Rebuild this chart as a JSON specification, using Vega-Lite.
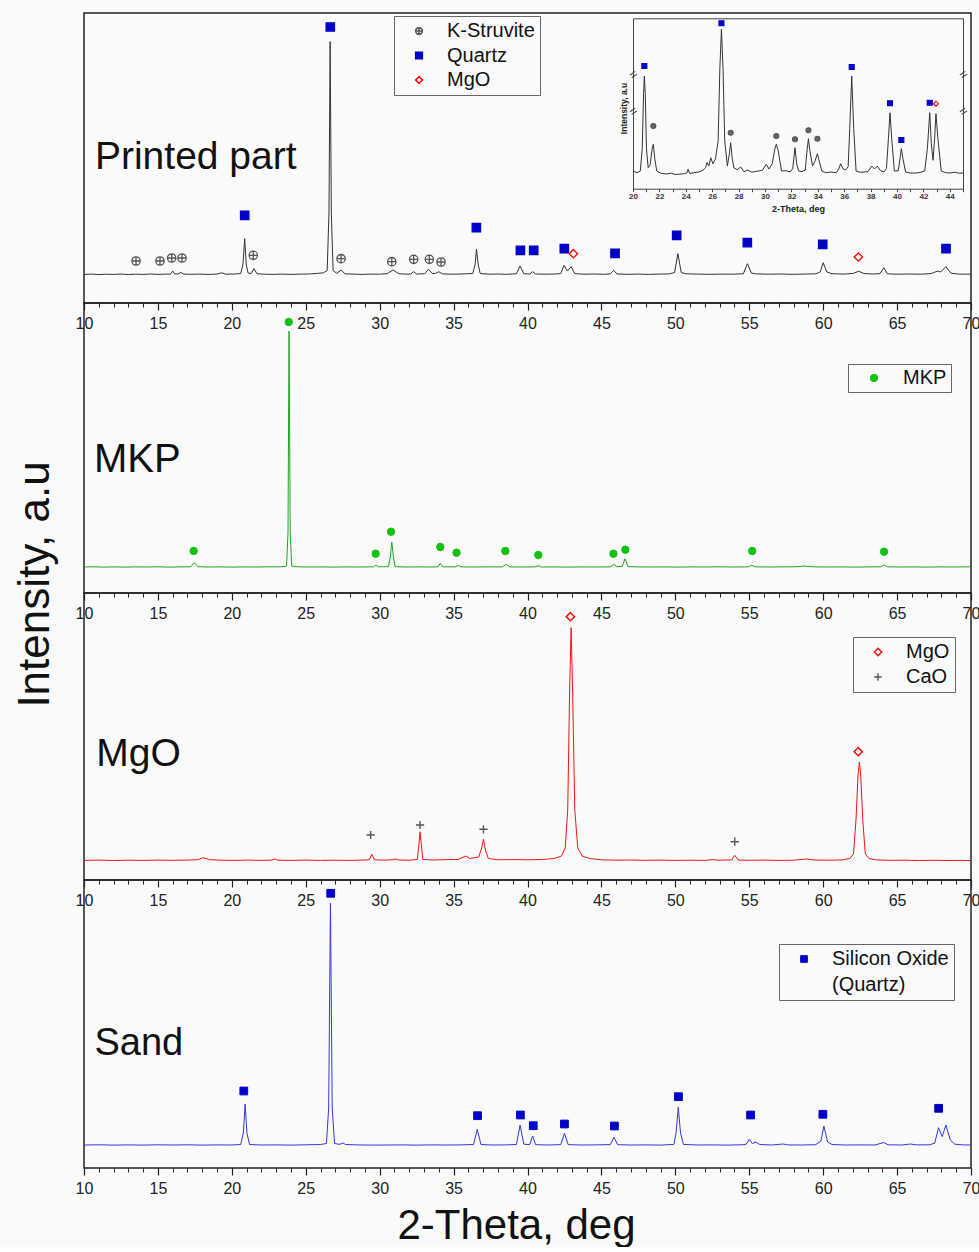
{
  "$schema": "https://vega.github.io/schema/vega-lite/v6.json",
  "background": "#fafafa",
  "padding": {"left": 12, "top": 12, "right": 0, "bottom": 0},
  "bounds": "flush",
  "spacing": 0,
  "datasets": {
    "p1line": [
      {"t":10,"i":28.5},{"t":10.5,"i":28.9},{"t":11,"i":28.4},{"t":11.5,"i":28.8},{"t":12,"i":28.6},{"t":12.5,"i":28.9},{"t":13,"i":28.5},{"t":13.5,"i":28.8},{"t":14,"i":28.6},{"t":14.5,"i":29.0},{"t":15,"i":28.6},{"t":15.5,"i":28.9},{"t":15.85,"i":28.8},{"t":16.0,"i":32},{"t":16.15,"i":28.9},{"t":16.35,"i":29.1},{"t":16.55,"i":30.5},{"t":16.75,"i":28.9},{"t":17.2,"i":28.7},{"t":17.8,"i":28.9},{"t":18.4,"i":28.6},{"t":19.0,"i":28.9},{"t":19.3,"i":30.2},{"t":19.6,"i":28.8},{"t":20.2,"i":29},{"t":20.6,"i":29.5},{"t":20.75,"i":38},{"t":20.87,"i":64.3},{"t":20.98,"i":38},{"t":21.1,"i":30},{"t":21.3,"i":29.4},{"t":21.5,"i":34.3},{"t":21.7,"i":29.3},{"t":22.2,"i":28.8},{"t":22.8,"i":28.6},{"t":23.4,"i":28.9},{"t":24.0,"i":28.6},{"t":24.6,"i":28.9},{"t":25.2,"i":29},{"t":25.8,"i":29.6},{"t":26.2,"i":30.2},{"t":26.45,"i":32.5},{"t":26.57,"i":90},{"t":26.65,"i":261.3},{"t":26.73,"i":90},{"t":26.85,"i":32.5},{"t":27.1,"i":29.6},{"t":27.4,"i":33},{"t":27.65,"i":29.2},{"t":28.2,"i":28.9},{"t":28.8,"i":28.6},{"t":29.4,"i":28.9},{"t":30.0,"i":28.8},{"t":30.5,"i":29.3},{"t":30.9,"i":33},{"t":31.3,"i":29.2},{"t":31.8,"i":28.9},{"t":32.1,"i":29},{"t":32.3,"i":31.3},{"t":32.5,"i":29},{"t":33.05,"i":29.3},{"t":33.3,"i":33.7},{"t":33.55,"i":29.5},{"t":33.8,"i":29.7},{"t":34.0,"i":31.3},{"t":34.25,"i":29.1},{"t":34.9,"i":28.8},{"t":35.5,"i":29},{"t":36.3,"i":29.5},{"t":36.45,"i":38},{"t":36.55,"i":53.7},{"t":36.67,"i":38},{"t":36.8,"i":29.5},{"t":37.4,"i":28.8},{"t":38.0,"i":29},{"t":38.6,"i":28.7},{"t":39.25,"i":29.2},{"t":39.5,"i":37},{"t":39.75,"i":29.3},{"t":40.15,"i":29},{"t":40.35,"i":31.3},{"t":40.55,"i":29},{"t":41.2,"i":28.8},{"t":41.9,"i":29},{"t":42.25,"i":29.4},{"t":42.47,"i":37.7},{"t":42.7,"i":32},{"t":42.95,"i":36.3},{"t":43.2,"i":29.4},{"t":43.8,"i":28.8},{"t":44.5,"i":29},{"t":45.2,"i":28.7},{"t":45.6,"i":29.1},{"t":45.83,"i":32.7},{"t":46.05,"i":29},{"t":46.8,"i":28.7},{"t":47.5,"i":28.9},{"t":48.2,"i":28.6},{"t":48.9,"i":28.9},{"t":49.6,"i":29.1},{"t":49.95,"i":30.5},{"t":50.17,"i":49.3},{"t":50.4,"i":30.5},{"t":50.7,"i":29.2},{"t":51.5,"i":28.9},{"t":52.3,"i":28.7},{"t":53.1,"i":28.9},{"t":53.9,"i":28.8},{"t":54.6,"i":29.3},{"t":54.88,"i":39.3},{"t":55.15,"i":29.8},{"t":55.5,"i":29.1},{"t":56.3,"i":28.8},{"t":57.1,"i":29},{"t":57.9,"i":28.7},{"t":58.7,"i":28.9},{"t":59.5,"i":29.2},{"t":59.8,"i":31},{"t":60.0,"i":40.3},{"t":60.25,"i":31},{"t":60.6,"i":29.3},{"t":61.4,"i":28.9},{"t":62.05,"i":29.6},{"t":62.4,"i":31.8},{"t":62.75,"i":29.5},{"t":63.3,"i":29},{"t":63.85,"i":29.3},{"t":64.1,"i":35.3},{"t":64.35,"i":29.2},{"t":65.0,"i":28.8},{"t":65.8,"i":29},{"t":66.6,"i":28.8},{"t":67.3,"i":29.4},{"t":67.75,"i":32},{"t":67.95,"i":31},{"t":68.3,"i":36.3},{"t":68.65,"i":29.8},{"t":69.1,"i":29},{"t":69.6,"i":28.8},{"t":70,"i":28.9}
    ],
    "p1mark": [
      {"t":13.52,"i":42,"phase":"K-Struvite"},{"t":15.14,"i":42,"phase":"K-Struvite"},{"t":15.93,"i":45,"phase":"K-Struvite"},{"t":16.63,"i":45,"phase":"K-Struvite"},{"t":21.45,"i":47.7,"phase":"K-Struvite"},{"t":27.39,"i":44.3,"phase":"K-Struvite"},{"t":30.82,"i":41.3,"phase":"K-Struvite"},{"t":32.3,"i":43.7,"phase":"K-Struvite"},{"t":33.36,"i":43.7,"phase":"K-Struvite"},{"t":34.15,"i":41,"phase":"K-Struvite"},
      {"t":20.87,"i":87.7,"phase":"Quartz"},{"t":26.66,"i":276,"phase":"Quartz"},{"t":36.54,"i":75.3,"phase":"Quartz"},{"t":39.52,"i":52.7,"phase":"Quartz"},{"t":40.42,"i":52.7,"phase":"Quartz"},{"t":42.49,"i":54.3,"phase":"Quartz"},{"t":45.92,"i":49.7,"phase":"Quartz"},{"t":50.09,"i":67.7,"phase":"Quartz"},{"t":54.87,"i":60.3,"phase":"Quartz"},{"t":59.97,"i":58.7,"phase":"Quartz"},{"t":68.31,"i":54.3,"phase":"Quartz"},
      {"t":43.1,"i":49.3,"phase":"MgO"},{"t":62.38,"i":46,"phase":"MgO"}
    ],
    "insetline": [
      {"t":20,"i":17.7},{"t":20.3,"i":16},{"t":20.55,"i":17.5},{"t":20.7,"i":40},{"t":20.8,"i":95},{"t":20.86,"i":112.7},{"t":20.93,"i":95},{"t":21.02,"i":40},{"t":21.15,"i":21},{"t":21.3,"i":24},{"t":21.45,"i":40},{"t":21.54,"i":44.4},{"t":21.65,"i":30},{"t":21.8,"i":17.7},{"t":22.1,"i":15.5},{"t":22.5,"i":14.7},{"t":22.9,"i":15.5},{"t":23.2,"i":14.2},{"t":23.5,"i":14.5},{"t":23.9,"i":15},{"t":24.1,"i":16},{"t":24.17,"i":19.4},{"t":24.3,"i":15.2},{"t":24.6,"i":16},{"t":25,"i":16.7},{"t":25.3,"i":18.5},{"t":25.5,"i":21},{"t":25.6,"i":26},{"t":25.75,"i":22.7},{"t":25.89,"i":31},{"t":26.05,"i":25},{"t":26.25,"i":30},{"t":26.45,"i":47.7},{"t":26.58,"i":120},{"t":26.7,"i":159.4},{"t":26.82,"i":120},{"t":26.95,"i":47.7},{"t":27.15,"i":22.7},{"t":27.3,"i":35},{"t":27.4,"i":46},{"t":27.52,"i":30},{"t":27.65,"i":20.7},{"t":27.9,"i":19},{"t":28.16,"i":21.7},{"t":28.4,"i":17},{"t":28.7,"i":18.5},{"t":29,"i":16.5},{"t":29.5,"i":17.7},{"t":29.8,"i":18.5},{"t":30.1,"i":24.4},{"t":30.3,"i":19.7},{"t":30.55,"i":25},{"t":30.75,"i":40},{"t":30.86,"i":44.4},{"t":31.0,"i":38},{"t":31.25,"i":17.7},{"t":31.6,"i":18},{"t":31.9,"i":16.7},{"t":32.1,"i":20},{"t":32.27,"i":41},{"t":32.4,"i":25},{"t":32.55,"i":17.7},{"t":32.8,"i":17},{"t":33.05,"i":18.7},{"t":33.2,"i":40},{"t":33.29,"i":50},{"t":33.4,"i":38},{"t":33.6,"i":22.7},{"t":33.8,"i":28},{"t":33.97,"i":35},{"t":34.1,"i":28},{"t":34.3,"i":17.7},{"t":34.6,"i":16},{"t":35,"i":16.7},{"t":35.4,"i":16},{"t":35.6,"i":20},{"t":35.73,"i":25},{"t":35.9,"i":20},{"t":36.1,"i":18.7},{"t":36.3,"i":22},{"t":36.42,"i":60},{"t":36.57,"i":112.7},{"t":36.72,"i":60},{"t":36.9,"i":17.7},{"t":37.2,"i":16.5},{"t":37.5,"i":16.7},{"t":37.8,"i":17},{"t":38.08,"i":22.7},{"t":38.3,"i":19.7},{"t":38.5,"i":22.7},{"t":38.75,"i":18},{"t":39.0,"i":16.7},{"t":39.2,"i":20},{"t":39.35,"i":50},{"t":39.47,"i":76},{"t":39.6,"i":50},{"t":39.8,"i":17.7},{"t":40.1,"i":18},{"t":40.25,"i":32},{"t":40.33,"i":40},{"t":40.45,"i":30},{"t":40.65,"i":16.7},{"t":41,"i":15.7},{"t":41.5,"i":15.7},{"t":41.8,"i":16.5},{"t":42.1,"i":17.7},{"t":42.3,"i":40},{"t":42.48,"i":76},{"t":42.6,"i":45},{"t":42.73,"i":28.4},{"t":42.85,"i":50},{"t":42.95,"i":75},{"t":43.1,"i":50},{"t":43.35,"i":17.7},{"t":43.7,"i":16},{"t":44,"i":15.7},{"t":44.4,"i":16.5},{"t":44.7,"i":15.5},{"t":45,"i":15.7}
    ],
    "insetmark": [
      {"t":20.86,"i":122.7,"phase":"Quartz"},{"t":26.7,"i":165.4,"phase":"Quartz"},{"t":36.57,"i":121.7,"phase":"Quartz"},{"t":39.47,"i":85.4,"phase":"Quartz"},{"t":40.33,"i":48.7,"phase":"Quartz"},{"t":42.48,"i":86,"phase":"Quartz"},
      {"t":21.54,"i":62.7,"phase":"K-Struvite"},{"t":27.4,"i":56,"phase":"K-Struvite"},{"t":30.86,"i":52.7,"phase":"K-Struvite"},{"t":32.27,"i":49.4,"phase":"K-Struvite"},{"t":33.29,"i":58.4,"phase":"K-Struvite"},{"t":33.97,"i":50,"phase":"K-Struvite"},
      {"t":42.95,"i":85,"phase":"MgO"}
    ],
    "p2line": [
      {"t":10,"i":26},{"t":10.6,"i":26.2},{"t":11.3,"i":25.9},{"t":12,"i":26.1},{"t":12.8,"i":25.9},{"t":13.5,"i":26.1},{"t":14.3,"i":26},{"t":15,"i":26.2},{"t":15.8,"i":25.9},{"t":16.5,"i":26.1},{"t":17.2,"i":26.2},{"t":17.47,"i":30.3},{"t":17.7,"i":26.3},{"t":18.4,"i":26},{"t":19.2,"i":26.1},{"t":20,"i":25.9},{"t":20.8,"i":26.1},{"t":21.6,"i":26},{"t":22.4,"i":26.2},{"t":23.2,"i":26.1},{"t":23.7,"i":26.8},{"t":23.8,"i":60},{"t":23.87,"i":262},{"t":23.95,"i":60},{"t":24.05,"i":26.8},{"t":24.5,"i":26.2},{"t":25.3,"i":26},{"t":26.1,"i":26.1},{"t":26.9,"i":25.9},{"t":27.7,"i":26.1},{"t":28.5,"i":26},{"t":29.2,"i":26.1},{"t":29.6,"i":26.2},{"t":29.75,"i":28},{"t":29.9,"i":26.2},{"t":30.6,"i":26.3},{"t":30.72,"i":36},{"t":30.82,"i":51},{"t":30.93,"i":36},{"t":31.05,"i":26.3},{"t":31.8,"i":26},{"t":32.6,"i":26.1},{"t":33.4,"i":26},{"t":33.95,"i":26.2},{"t":34.1,"i":29.7},{"t":34.25,"i":26.2},{"t":35.1,"i":26.1},{"t":35.32,"i":27.7},{"t":35.5,"i":26.1},{"t":36.3,"i":26},{"t":37.2,"i":26.1},{"t":38.3,"i":26.1},{"t":38.55,"i":28.7},{"t":38.8,"i":26.1},{"t":39.6,"i":26},{"t":40.5,"i":26.1},{"t":40.73,"i":27.3},{"t":40.95,"i":26},{"t":41.8,"i":26.1},{"t":42.7,"i":25.9},{"t":43.6,"i":26.1},{"t":44.5,"i":26},{"t":45.4,"i":26.1},{"t":45.65,"i":26.2},{"t":45.83,"i":28.7},{"t":46.05,"i":26.3},{"t":46.4,"i":26.5},{"t":46.6,"i":34.3},{"t":46.8,"i":26.4},{"t":47.5,"i":26.1},{"t":48.4,"i":26},{"t":49.3,"i":26.1},{"t":50.2,"i":25.9},{"t":51.1,"i":26.1},{"t":52,"i":26},{"t":52.9,"i":26.2},{"t":53.8,"i":26},{"t":54.7,"i":26.1},{"t":54.95,"i":26.2},{"t":55.17,"i":27.7},{"t":55.4,"i":26.2},{"t":56.3,"i":26},{"t":57.2,"i":26.1},{"t":58.1,"i":26.2},{"t":58.5,"i":26.6},{"t":58.7,"i":27},{"t":58.95,"i":26.5},{"t":59.5,"i":26.1},{"t":60.4,"i":26},{"t":61.3,"i":26.1},{"t":62.2,"i":25.9},{"t":63.1,"i":26.1},{"t":63.9,"i":26.2},{"t":64.14,"i":28},{"t":64.35,"i":26.2},{"t":65.2,"i":26},{"t":66.1,"i":26.1},{"t":67,"i":25.9},{"t":67.9,"i":26.1},{"t":68.8,"i":26},{"t":69.5,"i":26.1},{"t":70,"i":26.2}
    ],
    "p2mark": [
      {"t":17.42,"i":42,"phase":"MKP"},{"t":23.85,"i":271,"phase":"MKP"},{"t":29.73,"i":39.3,"phase":"MKP"},{"t":30.77,"i":61.3,"phase":"MKP"},{"t":34.1,"i":46,"phase":"MKP"},{"t":35.2,"i":40.3,"phase":"MKP"},{"t":38.5,"i":42,"phase":"MKP"},{"t":40.73,"i":38,"phase":"MKP"},{"t":45.81,"i":39.3,"phase":"MKP"},{"t":46.62,"i":43.3,"phase":"MKP"},{"t":55.2,"i":42,"phase":"MKP"},{"t":64.12,"i":41.3,"phase":"MKP"}
    ],
    "p3line": [
      {"t":10,"i":19.6},{"t":11,"i":19.9},{"t":12,"i":19.5},{"t":13,"i":19.8},{"t":14,"i":19.6},{"t":15,"i":19.9},{"t":16,"i":19.7},{"t":17,"i":19.9},{"t":17.7,"i":20.3},{"t":18.07,"i":22.3},{"t":18.5,"i":20.3},{"t":19.3,"i":19.8},{"t":20.2,"i":19.6},{"t":21.1,"i":19.9},{"t":22,"i":19.6},{"t":22.7,"i":19.9},{"t":22.9,"i":21},{"t":23.1,"i":19.8},{"t":24,"i":19.6},{"t":25,"i":19.9},{"t":26,"i":19.6},{"t":27,"i":19.8},{"t":28,"i":19.6},{"t":28.8,"i":19.9},{"t":29.3,"i":20.2},{"t":29.47,"i":25.7},{"t":29.65,"i":20.2},{"t":30.3,"i":19.8},{"t":30.9,"i":20.3},{"t":31.06,"i":21},{"t":31.3,"i":20},{"t":32,"i":19.8},{"t":32.55,"i":20.5},{"t":32.65,"i":35},{"t":32.73,"i":48.3},{"t":32.82,"i":35},{"t":32.92,"i":20.5},{"t":33.6,"i":20},{"t":34.4,"i":20.3},{"t":35.3,"i":20.5},{"t":35.83,"i":24},{"t":36.1,"i":21.5},{"t":36.4,"i":22.3},{"t":36.7,"i":23},{"t":36.9,"i":32},{"t":37.02,"i":40.7},{"t":37.15,"i":30},{"t":37.35,"i":21.5},{"t":38,"i":20.2},{"t":39,"i":20.4},{"t":40,"i":20.2},{"t":41,"i":20.5},{"t":41.8,"i":21.5},{"t":42.3,"i":24},{"t":42.55,"i":32},{"t":42.72,"i":70},{"t":42.85,"i":190},{"t":42.95,"i":252.3},{"t":43.05,"i":190},{"t":43.2,"i":70},{"t":43.4,"i":32},{"t":43.7,"i":24},{"t":44.2,"i":21.5},{"t":45,"i":20.2},{"t":46,"i":19.8},{"t":47,"i":20},{"t":48,"i":19.7},{"t":49,"i":19.9},{"t":50,"i":19.6},{"t":51,"i":19.8},{"t":52,"i":19.6},{"t":52.5,"i":20.3},{"t":53,"i":19.8},{"t":53.8,"i":20.1},{"t":54.02,"i":24.7},{"t":54.25,"i":20},{"t":55,"i":19.7},{"t":56,"i":19.9},{"t":57,"i":19.6},{"t":58,"i":19.8},{"t":58.87,"i":21},{"t":59.5,"i":19.9},{"t":60.5,"i":19.8},{"t":61.3,"i":20.1},{"t":61.8,"i":21.5},{"t":62.05,"i":26},{"t":62.22,"i":60},{"t":62.36,"i":105},{"t":62.45,"i":118},{"t":62.54,"i":105},{"t":62.68,"i":60},{"t":62.85,"i":26},{"t":63.1,"i":21.5},{"t":63.6,"i":20.1},{"t":64.5,"i":19.7},{"t":65.5,"i":19.8},{"t":66.5,"i":19.5},{"t":67.5,"i":19.7},{"t":68.5,"i":19.5},{"t":69.3,"i":19.6},{"t":70,"i":19.4}
    ],
    "p3mark": [
      {"t":29.39,"i":45,"phase":"CaO"},{"t":32.73,"i":55,"phase":"CaO"},{"t":37.02,"i":50.7,"phase":"CaO"},{"t":54.02,"i":38.3,"phase":"CaO"},
      {"t":42.9,"i":263.3,"phase":"MgO"},{"t":62.37,"i":128.3,"phase":"MgO"}
    ],
    "p4line": [
      {"t":10,"i":23},{"t":11,"i":23.2},{"t":12,"i":22.9},{"t":13,"i":23.1},{"t":14,"i":22.9},{"t":15,"i":23.2},{"t":16,"i":23},{"t":17,"i":23.2},{"t":18,"i":22.9},{"t":19,"i":23.1},{"t":20,"i":23},{"t":20.6,"i":23.5},{"t":20.78,"i":35},{"t":20.9,"i":64},{"t":21.02,"i":35},{"t":21.2,"i":23.5},{"t":22,"i":23},{"t":23,"i":23.1},{"t":24,"i":22.9},{"t":25,"i":23.2},{"t":26,"i":23.5},{"t":26.4,"i":24.5},{"t":26.55,"i":60},{"t":26.67,"i":264.7},{"t":26.79,"i":60},{"t":26.95,"i":24.5},{"t":27.3,"i":23.6},{"t":27.5,"i":25},{"t":27.7,"i":23.5},{"t":28.5,"i":23.1},{"t":29.5,"i":22.9},{"t":30.5,"i":23},{"t":31.5,"i":23.1},{"t":32.5,"i":22.9},{"t":33.5,"i":23.1},{"t":34.5,"i":23},{"t":35.5,"i":23.1},{"t":36.35,"i":23.5},{"t":36.6,"i":38.7},{"t":36.85,"i":23.5},{"t":37.6,"i":23},{"t":38.5,"i":23.1},{"t":39.25,"i":23.5},{"t":39.5,"i":43},{"t":39.75,"i":23.8},{"t":40.15,"i":23.4},{"t":40.35,"i":32},{"t":40.55,"i":23.3},{"t":41.4,"i":23},{"t":42.25,"i":23.4},{"t":42.5,"i":34.7},{"t":42.75,"i":23.4},{"t":43.6,"i":23},{"t":44.6,"i":23.1},{"t":45.6,"i":23.4},{"t":45.85,"i":30.7},{"t":46.1,"i":23.3},{"t":47,"i":23},{"t":48,"i":23.1},{"t":49,"i":22.9},{"t":49.9,"i":23.6},{"t":50.05,"i":35},{"t":50.2,"i":60.7},{"t":50.35,"i":35},{"t":50.55,"i":23.6},{"t":51.5,"i":23},{"t":52.5,"i":23.1},{"t":53.5,"i":22.9},{"t":54.5,"i":23.2},{"t":54.8,"i":23.8},{"t":55.0,"i":28.7},{"t":55.2,"i":24.5},{"t":55.45,"i":26},{"t":55.7,"i":23.5},{"t":56.5,"i":23},{"t":57.3,"i":24},{"t":57.6,"i":23.1},{"t":58.5,"i":23},{"t":59.5,"i":23.3},{"t":59.85,"i":27},{"t":60.05,"i":42},{"t":60.3,"i":26},{"t":60.6,"i":23.5},{"t":61.5,"i":23},{"t":62.5,"i":23.1},{"t":63.5,"i":23},{"t":64.1,"i":25.5},{"t":64.4,"i":23.2},{"t":65.3,"i":23},{"t":65.9,"i":24},{"t":66.3,"i":23.1},{"t":67.2,"i":23.2},{"t":67.55,"i":25},{"t":67.8,"i":40.3},{"t":68.05,"i":31.3},{"t":68.3,"i":43},{"t":68.6,"i":28},{"t":68.9,"i":23.8},{"t":69.5,"i":23.1},{"t":70,"i":23}
    ],
    "p4mark": [
      {"t":20.81,"i":77,"phase":"Silicon Oxide"},{"t":26.69,"i":274.7,"phase":"Silicon Oxide"},{"t":36.62,"i":52.3,"phase":"Silicon Oxide"},{"t":39.52,"i":53,"phase":"Silicon Oxide"},{"t":40.39,"i":42.3,"phase":"Silicon Oxide"},{"t":42.5,"i":44,"phase":"Silicon Oxide"},{"t":45.88,"i":42,"phase":"Silicon Oxide"},{"t":50.21,"i":71.3,"phase":"Silicon Oxide"},{"t":55.09,"i":53,"phase":"Silicon Oxide"},{"t":59.98,"i":53.7,"phase":"Silicon Oxide"},{"t":67.81,"i":59.7,"phase":"Silicon Oxide"}
    ]
  },
  "vconcat": [
    {
      "width": 887, "height": 290,
      "layer": [
        {
          "data": {"name": "p1line"},
          "mark": {"type": "line", "color": "#333333", "strokeWidth": 1},
          "encoding": {
            "x": {"field": "t", "type": "quantitative", "scale": {"domain": [10, 70]},
                  "axis": {"orient": "bottom", "values": [10,15,20,25,30,35,40,45,50,55,60,65,70], "tickSize": 7, "tickWidth": 1.2, "tickColor": "#222", "domain": false, "grid": false, "labelFontSize": 16, "labelPadding": 5, "labelFlush": false, "labelOverlap": false, "labelColor": "#222", "title": null}},
            "y": {"field": "i", "type": "quantitative", "scale": {"domain": [0, 290]}, "axis": null}
          }
        },
        {
          "data": {"name": "p1mark"},
          "mark": {"type": "point", "opacity": 1, "strokeWidth": 1.3, "size": 70},
          "encoding": {
            "x": {"field": "t", "type": "quantitative", "scale": {"domain": [10, 70]},
                  "axis": {"orient": "bottom", "values": [10,11,12,13,14,15,16,17,18,19,20,21,22,23,24,25,26,27,28,29,30,31,32,33,34,35,36,37,38,39,40,41,42,43,44,45,46,47,48,49,50,51,52,53,54,55,56,57,58,59,60,61,62,63,64,65,66,67,68,69,70], "tickSize": 4, "tickWidth": 1, "tickColor": "#222", "labels": false, "domain": false, "grid": false, "title": null}},
            "y": {"field": "i", "type": "quantitative", "scale": {"domain": [0, 290]}, "axis": null},
            "shape": {"field": "phase", "type": "nominal", "scale": {"domain": ["K-Struvite", "Quartz", "MgO"], "range": ["M-1,0A1,1,0,1,1,1,0A1,1,0,1,1,-1,0ZM-1,0L1,0M0,-1L0,1", "square", "diamond"]},
                      "legend": {"orient": "none", "legendX": 310, "legendY": 3, "title": null, "strokeColor": "#666", "padding": 5, "labelFontSize": 20, "labelColor": "#111", "symbolSize": 45, "symbolStrokeWidth": 1.5, "symbolOffset": 10, "labelOffset": 18, "rowPadding": 4.5, "labelLimit": 300}},
            "fill": {"field": "phase", "type": "nominal", "scale": {"domain": ["K-Struvite", "Quartz", "MgO"], "range": ["transparent", "#0000c8", "transparent"]},
                      "legend": {"orient": "none", "legendX": 310, "legendY": 3, "title": null, "strokeColor": "#666", "padding": 5, "labelFontSize": 20, "labelColor": "#111", "symbolSize": 45, "symbolStrokeWidth": 1.5, "symbolOffset": 10, "labelOffset": 18, "rowPadding": 4.5, "labelLimit": 300}},
            "stroke": {"field": "phase", "type": "nominal", "scale": {"domain": ["K-Struvite", "Quartz", "MgO"], "range": ["#555555", "#0000c8", "#ff0000"]},
                      "legend": {"orient": "none", "legendX": 310, "legendY": 3, "title": null, "strokeColor": "#666", "padding": 5, "labelFontSize": 20, "labelColor": "#111", "symbolSize": 45, "symbolStrokeWidth": 1.5, "symbolOffset": 10, "labelOffset": 18, "rowPadding": 4.5, "labelLimit": 300}}
          }
        },
        {
          "data": {"values": [{"label": "Printed part"}]},
          "mark": {"type": "text", "fontSize": 39, "align": "left", "baseline": "alphabetic", "color": "#111"},
          "encoding": {
            "x": {"datum": 10.74, "type": "quantitative", "scale": {"domain": [10, 70]}, "axis": null},
            "y": {"datum": 134, "type": "quantitative", "scale": {"domain": [0, 290]}, "axis": null},
            "text": {"field": "label"}
          }
        },
        {
          "data": {"name": "insetline"},
          "mark": {"type": "line", "color": "#333333", "strokeWidth": 1},
          "encoding": {
            "x": {"field": "t", "type": "quantitative", "scale": {"domain": [20, 45], "range": [549, 879]},
                  "axis": {"orient": "bottom", "offset": -114.3, "values": [20,21,22,23,24,25,26,27,28,29,30,31,32,33,34,35,36,37,38,39,40,41,42,43,44,45], "labelExpr": "datum.value % 2 == 0 && datum.value < 45 ? datum.label : ''", "tickSize": 3, "tickColor": "#444", "tickWidth": 1, "domain": true, "domainColor": "#444", "domainWidth": 1, "grid": false, "labelFontSize": 8, "labelFontWeight": "bold", "labelPadding": 1, "labelColor": "#333", "labelFlush": false, "labelOverlap": false, "title": "2-Theta, deg", "titleFontSize": 9, "titleFontWeight": "bold", "titlePadding": 4, "titleColor": "#222"}},
            "y": {"field": "i", "type": "quantitative", "scale": {"domain": [0, 170.4], "range": [175.7, 5.3]},
                  "axis": {"orient": "left", "offset": -549, "values": [77.7, 114.4], "labelExpr": "'='", "ticks": false, "tickSize": 0, "labelPadding": 0, "labelAlign": "center", "labelBaseline": "middle", "labelAngle": -35, "labelFontSize": 13, "labelColor": "#333", "domain": true, "domainColor": "#444", "domainWidth": 1, "grid": false, "title": "Intensity, a.u", "titleFontSize": 8.5, "titleFontWeight": "bold", "titleColor": "#222", "titleX": -7, "titleY": 95, "titleAngle": -90, "titleAlign": "center", "titleBaseline": "alphabetic"}}
          }
        },
        {
          "data": {"name": "insetmark"},
          "mark": {"type": "point", "opacity": 1, "strokeWidth": 1.1, "size": 25},
          "encoding": {
            "x": {"field": "t", "type": "quantitative", "scale": {"domain": [20, 45], "range": [549, 879]},
                  "axis": {"orient": "top", "offset": -5.3, "labels": false, "ticks": false, "domain": true, "domainColor": "#444", "domainWidth": 1, "grid": false, "title": null}},
            "y": {"field": "i", "type": "quantitative", "scale": {"domain": [0, 170.4], "range": [175.7, 5.3]},
                  "axis": {"orient": "right", "offset": -8, "values": [77.7, 114.4], "labelExpr": "'='", "ticks": false, "tickSize": 0, "labelPadding": 0, "labelAlign": "center", "labelBaseline": "middle", "labelAngle": -35, "labelFontSize": 13, "labelColor": "#333", "domain": true, "domainColor": "#444", "domainWidth": 1, "grid": false, "title": null}},
            "shape": {"field": "phase", "type": "nominal", "scale": {"domain": ["K-Struvite", "Quartz", "MgO"], "range": ["circle", "square", "diamond"]}, "legend": null},
            "fill": {"field": "phase", "type": "nominal", "scale": {"domain": ["K-Struvite", "Quartz", "MgO"], "range": ["#666666", "#0000c8", "transparent"]}, "legend": null},
            "stroke": {"field": "phase", "type": "nominal", "scale": {"domain": ["K-Struvite", "Quartz", "MgO"], "range": ["#555555", "#0000c8", "#ff0000"]}, "legend": null}
          }
        }
      ],
      "resolve": {"scale": {"x": "independent", "y": "independent", "shape": "independent", "fill": "independent", "stroke": "independent"}, "axis": {"x": "independent", "y": "independent"}, "legend": {"shape": "independent", "fill": "independent", "stroke": "independent"}}
    },
    {
      "width": 887, "height": 290,
      "layer": [
        {
          "data": {"name": "p2line"},
          "mark": {"type": "line", "color": "#1fa51f", "strokeWidth": 1},
          "encoding": {
            "x": {"field": "t", "type": "quantitative", "scale": {"domain": [10, 70]},
                  "axis": {"orient": "bottom", "values": [10,15,20,25,30,35,40,45,50,55,60,65,70], "tickSize": 7, "tickWidth": 1.2, "tickColor": "#222", "domain": false, "grid": false, "labelFontSize": 16, "labelPadding": 5, "labelFlush": false, "labelOverlap": false, "labelColor": "#222", "title": null}},
            "y": {"field": "i", "type": "quantitative", "scale": {"domain": [0, 290]},
                  "axis": {"orient": "left", "title": "Intensity, a.u", "titleFontSize": 44, "titleFontWeight": "normal", "titleColor": "#111", "titleX": -36, "titleY": 281, "titleAngle": -90, "titleAlign": "center", "titleBaseline": "alphabetic", "domain": false, "ticks": false, "labels": false, "grid": false}}
          }
        },
        {
          "data": {"name": "p2mark"},
          "mark": {"type": "point", "opacity": 1, "strokeWidth": 1, "size": 55},
          "encoding": {
            "x": {"field": "t", "type": "quantitative", "scale": {"domain": [10, 70]},
                  "axis": {"orient": "bottom", "values": [10,11,12,13,14,15,16,17,18,19,20,21,22,23,24,25,26,27,28,29,30,31,32,33,34,35,36,37,38,39,40,41,42,43,44,45,46,47,48,49,50,51,52,53,54,55,56,57,58,59,60,61,62,63,64,65,66,67,68,69,70], "tickSize": 4, "tickWidth": 1, "tickColor": "#222", "labels": false, "domain": false, "grid": false, "title": null}},
            "y": {"field": "i", "type": "quantitative", "scale": {"domain": [0, 290]}, "axis": null},
            "shape": {"field": "phase", "type": "nominal", "scale": {"domain": ["MKP"], "range": ["circle"]},
                      "legend": {"orient": "none", "legendX": 764, "legendY": 61, "title": null, "strokeColor": "#666", "padding": 4, "labelFontSize": 20, "labelColor": "#111", "symbolSize": 55, "symbolStrokeWidth": 1, "symbolOffset": 12, "labelOffset": 19, "labelLimit": 300}},
            "fill": {"field": "phase", "type": "nominal", "scale": {"domain": ["MKP"], "range": ["#12c212"]},
                      "legend": {"orient": "none", "legendX": 764, "legendY": 61, "title": null, "strokeColor": "#666", "padding": 4, "labelFontSize": 20, "labelColor": "#111", "symbolSize": 55, "symbolStrokeWidth": 1, "symbolOffset": 12, "labelOffset": 19, "labelLimit": 300}},
            "stroke": {"field": "phase", "type": "nominal", "scale": {"domain": ["MKP"], "range": ["#12c212"]},
                      "legend": {"orient": "none", "legendX": 764, "legendY": 61, "title": null, "strokeColor": "#666", "padding": 4, "labelFontSize": 20, "labelColor": "#111", "symbolSize": 55, "symbolStrokeWidth": 1, "symbolOffset": 12, "labelOffset": 19, "labelLimit": 300}}
          }
        },
        {
          "data": {"values": [{"label": "MKP"}]},
          "mark": {"type": "text", "fontSize": 40, "align": "left", "baseline": "alphabetic", "color": "#111"},
          "encoding": {
            "x": {"datum": 10.68, "type": "quantitative", "scale": {"domain": [10, 70]}, "axis": null},
            "y": {"datum": 121.3, "type": "quantitative", "scale": {"domain": [0, 290]}, "axis": null},
            "text": {"field": "label"}
          }
        }
      ],
      "resolve": {"scale": {"x": "independent", "y": "independent", "shape": "independent", "fill": "independent", "stroke": "independent"}, "axis": {"x": "independent", "y": "independent"}, "legend": {"shape": "independent", "fill": "independent", "stroke": "independent"}}
    },
    {
      "width": 887, "height": 287,
      "layer": [
        {
          "data": {"name": "p3line"},
          "mark": {"type": "line", "color": "#f01414", "strokeWidth": 1},
          "encoding": {
            "x": {"field": "t", "type": "quantitative", "scale": {"domain": [10, 70]},
                  "axis": {"orient": "bottom", "values": [10,15,20,25,30,35,40,45,50,55,60,65,70], "tickSize": 7, "tickWidth": 1.2, "tickColor": "#222", "domain": false, "grid": false, "labelFontSize": 16, "labelPadding": 5, "labelFlush": false, "labelOverlap": false, "labelColor": "#222", "title": null}},
            "y": {"field": "i", "type": "quantitative", "scale": {"domain": [0, 287]}, "axis": null}
          }
        },
        {
          "data": {"name": "p3mark"},
          "mark": {"type": "point", "opacity": 1, "strokeWidth": 1.4, "size": 68},
          "encoding": {
            "x": {"field": "t", "type": "quantitative", "scale": {"domain": [10, 70]},
                  "axis": {"orient": "bottom", "values": [10,11,12,13,14,15,16,17,18,19,20,21,22,23,24,25,26,27,28,29,30,31,32,33,34,35,36,37,38,39,40,41,42,43,44,45,46,47,48,49,50,51,52,53,54,55,56,57,58,59,60,61,62,63,64,65,66,67,68,69,70], "tickSize": 4, "tickWidth": 1, "tickColor": "#222", "labels": false, "domain": false, "grid": false, "title": null}},
            "y": {"field": "i", "type": "quantitative", "scale": {"domain": [0, 287]}, "axis": null},
            "shape": {"field": "phase", "type": "nominal", "scale": {"domain": ["MgO", "CaO"], "range": ["diamond", "M-1,0L1,0M0,-1L0,1"]},
                      "legend": {"orient": "none", "legendX": 769, "legendY": 44, "title": null, "strokeColor": "#666", "padding": 5, "labelFontSize": 20, "labelColor": "#111", "symbolSize": 55, "symbolStrokeWidth": 1.4, "symbolOffset": 10, "labelOffset": 18, "rowPadding": 5, "labelLimit": 300}},
            "fill": {"field": "phase", "type": "nominal", "scale": {"domain": ["MgO", "CaO"], "range": ["transparent", "transparent"]},
                      "legend": {"orient": "none", "legendX": 769, "legendY": 44, "title": null, "strokeColor": "#666", "padding": 5, "labelFontSize": 20, "labelColor": "#111", "symbolSize": 55, "symbolStrokeWidth": 1.4, "symbolOffset": 10, "labelOffset": 18, "rowPadding": 5, "labelLimit": 300}},
            "stroke": {"field": "phase", "type": "nominal", "scale": {"domain": ["MgO", "CaO"], "range": ["#ff0000", "#555555"]},
                      "legend": {"orient": "none", "legendX": 769, "legendY": 44, "title": null, "strokeColor": "#666", "padding": 5, "labelFontSize": 20, "labelColor": "#111", "symbolSize": 55, "symbolStrokeWidth": 1.4, "symbolOffset": 10, "labelOffset": 18, "rowPadding": 5, "labelLimit": 300}}
          }
        },
        {
          "data": {"values": [{"label": "MgO"}]},
          "mark": {"type": "text", "fontSize": 39, "align": "left", "baseline": "alphabetic", "color": "#111"},
          "encoding": {
            "x": {"datum": 10.83, "type": "quantitative", "scale": {"domain": [10, 70]}, "axis": null},
            "y": {"datum": 114, "type": "quantitative", "scale": {"domain": [0, 287]}, "axis": null},
            "text": {"field": "label"}
          }
        }
      ],
      "resolve": {"scale": {"x": "independent", "y": "independent", "shape": "independent", "fill": "independent", "stroke": "independent"}, "axis": {"x": "independent", "y": "independent"}, "legend": {"shape": "independent", "fill": "independent", "stroke": "independent"}}
    },
    {
      "width": 887, "height": 288,
      "layer": [
        {
          "data": {"name": "p4line"},
          "mark": {"type": "line", "color": "#3535dc", "strokeWidth": 1},
          "encoding": {
            "x": {"field": "t", "type": "quantitative", "scale": {"domain": [10, 70]},
                  "axis": {"orient": "bottom", "values": [10,15,20,25,30,35,40,45,50,55,60,65,70], "tickSize": 7, "tickWidth": 1.2, "tickColor": "#222", "domain": false, "grid": false, "labelFontSize": 16, "labelPadding": 5, "labelFlush": false, "labelOverlap": false, "labelColor": "#222", "title": "2-Theta, deg", "titleFontSize": 42, "titleFontWeight": "normal", "titleColor": "#111", "titlePadding": 9, "titleX": 432, "titleAlign": "center"}},
            "y": {"field": "i", "type": "quantitative", "scale": {"domain": [0, 288]}, "axis": null}
          }
        },
        {
          "data": {"name": "p4mark"},
          "mark": {"type": "point", "opacity": 1, "strokeWidth": 1, "size": 60},
          "encoding": {
            "x": {"field": "t", "type": "quantitative", "scale": {"domain": [10, 70]},
                  "axis": {"orient": "bottom", "values": [10,11,12,13,14,15,16,17,18,19,20,21,22,23,24,25,26,27,28,29,30,31,32,33,34,35,36,37,38,39,40,41,42,43,44,45,46,47,48,49,50,51,52,53,54,55,56,57,58,59,60,61,62,63,64,65,66,67,68,69,70], "tickSize": 4, "tickWidth": 1, "tickColor": "#222", "labels": false, "domain": false, "grid": false, "title": null}},
            "y": {"field": "i", "type": "quantitative", "scale": {"domain": [0, 288]}, "axis": null},
            "shape": {"field": "phase", "type": "nominal", "scale": {"domain": ["Silicon Oxide", "(Quartz)"], "range": ["square", "square"]},
                      "legend": {"orient": "none", "legendX": 695, "legendY": 64, "title": null, "strokeColor": "#666", "padding": 5, "labelFontSize": 20, "labelColor": "#111", "symbolSize": 45, "symbolStrokeWidth": 1, "symbolOffset": 10, "labelOffset": 18, "rowPadding": 6, "labelLimit": 300}},
            "fill": {"field": "phase", "type": "nominal", "scale": {"domain": ["Silicon Oxide", "(Quartz)"], "range": ["#0000c8", "transparent"]},
                      "legend": {"orient": "none", "legendX": 695, "legendY": 64, "title": null, "strokeColor": "#666", "padding": 5, "labelFontSize": 20, "labelColor": "#111", "symbolSize": 45, "symbolStrokeWidth": 1, "symbolOffset": 10, "labelOffset": 18, "rowPadding": 6, "labelLimit": 300}},
            "stroke": {"field": "phase", "type": "nominal", "scale": {"domain": ["Silicon Oxide", "(Quartz)"], "range": ["#0000c8", "transparent"]},
                      "legend": {"orient": "none", "legendX": 695, "legendY": 64, "title": null, "strokeColor": "#666", "padding": 5, "labelFontSize": 20, "labelColor": "#111", "symbolSize": 45, "symbolStrokeWidth": 1, "symbolOffset": 10, "labelOffset": 18, "rowPadding": 6, "labelLimit": 300}}
          }
        },
        {
          "data": {"values": [{"label": "Sand"}]},
          "mark": {"type": "text", "fontSize": 38, "align": "left", "baseline": "alphabetic", "color": "#111"},
          "encoding": {
            "x": {"datum": 10.71, "type": "quantitative", "scale": {"domain": [10, 70]}, "axis": null},
            "y": {"datum": 113, "type": "quantitative", "scale": {"domain": [0, 288]}, "axis": null},
            "text": {"field": "label"}
          }
        }
      ],
      "resolve": {"scale": {"x": "independent", "y": "independent", "shape": "independent", "fill": "independent", "stroke": "independent"}, "axis": {"x": "independent", "y": "independent"}, "legend": {"shape": "independent", "fill": "independent", "stroke": "independent"}}
    }
  ],
  "resolve": {"scale": {"x": "independent", "y": "independent", "shape": "independent", "fill": "independent", "stroke": "independent"}, "axis": {"x": "independent", "y": "independent"}, "legend": {"shape": "independent", "fill": "independent", "stroke": "independent"}},
  "config": {
    "font": "Liberation Sans",
    "view": {"stroke": "#222222", "strokeWidth": 1.5},
    "axis": {"labelFont": "Liberation Sans", "titleFont": "Liberation Sans"},
    "legend": {"labelFont": "Liberation Sans"},
    "text": {"font": "Liberation Sans"}
  }
}
